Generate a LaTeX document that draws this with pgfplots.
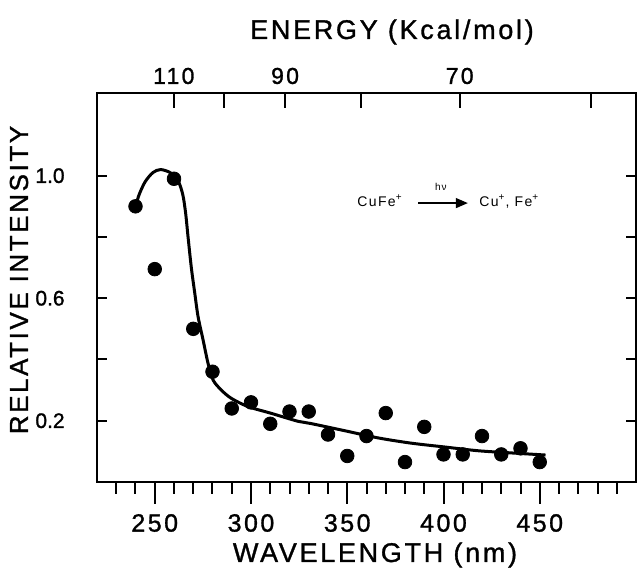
\documentclass[border=0pt]{standalone}
\usepackage{fontspec}
\setmainfont{Liberation Sans}[LetterSpace=10]
\newfontfamily\lab{Liberation Sans}[LetterSpace=10, FakeBold=1.2]
\newfontfamily\labn{Liberation Sans}[FakeBold=1.2]
\usepackage{pgfplots}
\pgfplotsset{compat=1.18}
\usetikzlibrary{calc,arrows.meta}

\begin{document}
\begin{tikzpicture}
\pgfplotsset{
  base/.style={scale only axis, width=269.5pt, height=194.5pt,
    xmin=220, xmax=500, ymin=0, ymax=1.27},
}
% main axis: data, box, wavelength ticks (outside)
\begin{axis}[base, name=main,
  axis line style={line width=1.2pt},
  tick align=outside, xtick pos=left,
  xtick={250,300,350,400,450}, xticklabels={250,300,350,400,450},
  minor xtick={230,240,...,490},
  major tick length=11pt, minor tick length=6pt,
  tick style={black, line width=1pt},
  ytick=\empty,
  xticklabel style={font=\lab\fontsize{12.5}{14}\selectfont, anchor=center, yshift=-9.5pt},
  clip=false]
\addplot[black, line width=1.5pt, smooth] coordinates {
  (240.5,0.91) (242,0.94) (245,0.98) (249,1.01) (253,1.02) (258,1.01)
  (262,0.985) (264.5,0.94) (266,0.88) (267.3,0.80) (269,0.70) (270.8,0.616)
  (272.5,0.54) (275.1,0.464) (277.7,0.387) (280.3,0.333) (284.6,0.30)
  (289.8,0.273) (298.5,0.246) (310.6,0.224) (324.5,0.198) (331,0.191)
  (349,0.167) (366,0.144) (383,0.127) (401,0.114) (418,0.102) (435,0.095)
  (453,0.088)};
\addplot[only marks, mark=*, mark size=3.4pt, black] coordinates {
  (240,0.90) (250,0.695) (260,0.99) (270,0.50) (280,0.36) (290,0.24)
  (300,0.26) (310,0.19) (320,0.23) (330,0.23) (340,0.155) (350,0.085)
  (360,0.15) (370,0.225) (380,0.065) (390,0.18) (400,0.09) (410,0.09)
  (420,0.15) (430,0.09) (440,0.11) (450,0.065)};
\node[font=\fontsize{7}{8}\selectfont] at (rel axis cs:0.525,0.722) {CuFe\textsuperscript{+}};
\node[font=\fontsize{7}{8}\selectfont] at (rel axis cs:0.765,0.722) {Cu\textsuperscript{+}, Fe\textsuperscript{+}};
\node[font=\fontsize{5}{6}\selectfont] at (rel axis cs:0.638,0.758) {hν};
\draw[line width=0.7pt, -{Triangle[length=6pt,width=5pt]}]
  (rel axis cs:0.596,0.717) -- (rel axis cs:0.688,0.717);
\end{axis}
% intensity ticks (inside, both sides)
\begin{axis}[base, axis line style={draw=none},
  xtick=\empty,
  ytick={0.2,0.4,0.6,0.8,1.0}, yticklabels={0.2,,0.6,,1.0},
  ytick pos=both, yticklabel pos=left,
  tick align=inside, major tick length=5pt,
  tick style={black, line width=1pt},
  yticklabel style={font=\labn\fontsize{10.5}{12}\selectfont, anchor=east, inner sep=0pt, xshift=-16pt}]
\end{axis}
% energy ticks (top, inside)
\begin{axis}[base, axis line style={draw=none},
  ytick=\empty,
  xtick={259.9,285.9,317.7,357.4,408.4,476.5}, xticklabels={110,,90,,70,},
  xtick pos=right, xticklabel pos=right,
  tick align=inside, major tick length=7.5pt,
  tick style={black, line width=1pt},
  xticklabel style={font=\lab\fontsize{11.5}{13}\selectfont, anchor=center, yshift=8.5pt}]
\end{axis}
\node[font=\lab\fontsize{13.5}{15}\selectfont] at ($(main.south west)+(139pt,-36.5pt)$) {WAVELENGTH (nm)};
\node[font=\lab\fontsize{13}{15}\selectfont, rotate=90] at ($(main.south west)+(-39pt,101pt)$) {RELATIVE INTENSITY};
\node[font=\lab\fontsize{13.5}{15}\selectfont] at ($(main.south west)+(147.5pt,225pt)$) {ENERGY (Kcal/mol)};
\pgfresetboundingbox
\path[use as bounding box] ($(main.south west)+(-48.5pt,-48pt)$) rectangle ($(main.north east)+(1pt,46.5pt)$);
\end{tikzpicture}
\end{document}
